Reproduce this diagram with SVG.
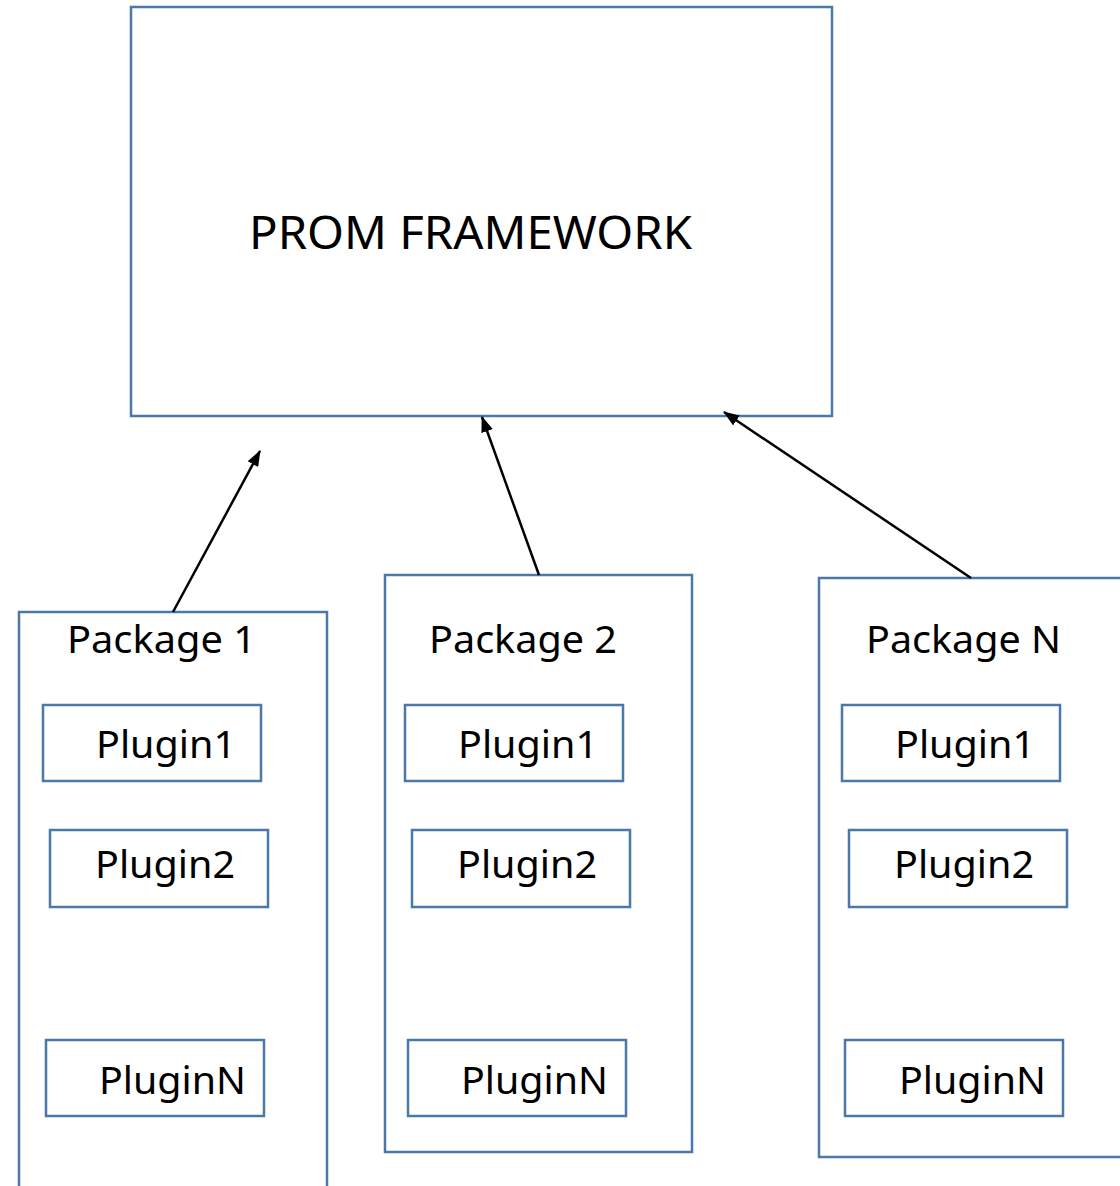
<svg xmlns="http://www.w3.org/2000/svg" width="1120" height="1186" viewBox="0 0 1120 1186">
<style>
.box{fill:#fff;stroke:#4a78a8;stroke-width:2.5}
.t{font-family:"Noto Sans","Liberation Sans",sans-serif;fill:#000}
.big{font-size:45px}
.lbl{font-size:39px}
.conn{stroke:#000;stroke-width:2.5;fill:none;marker-end:url(#ah)}
</style>
<defs>
<marker id="ah" viewBox="0 0 16 12" refX="15" refY="6" markerWidth="16" markerHeight="12" markerUnits="userSpaceOnUse" orient="auto"><path d="M0,0 L16,6 L0,12 z" fill="#000"/></marker>
</defs>
<rect width="1120" height="1186" fill="#fff"/>
<g id="framework"><rect class="box" x="131" y="7" width="701" height="409"/><text class="t big" x="249" y="249" textLength="443" lengthAdjust="spacingAndGlyphs">PROM FRAMEWORK</text></g>
<g id="package1"><rect class="box" x="19" y="612" width="308" height="590"/><text class="t lbl" x="67" y="653" textLength="189" lengthAdjust="spacingAndGlyphs">Package 1</text>
<g id="p1-plugin1"><rect class="box" x="43" y="705" width="218" height="76"/><text class="t lbl" x="96" y="758" textLength="140" lengthAdjust="spacingAndGlyphs">Plugin1</text></g>
<g id="p1-plugin2"><rect class="box" x="50" y="830" width="218" height="77"/><text class="t lbl" x="95" y="878" textLength="140" lengthAdjust="spacingAndGlyphs">Plugin2</text></g>
<g id="p1-pluginN"><rect class="box" x="46" y="1040" width="218" height="76"/><text class="t lbl" x="99" y="1094" textLength="147" lengthAdjust="spacingAndGlyphs">PluginN</text></g></g>
<g id="package2"><rect class="box" x="385" y="575" width="307" height="577"/><text class="t lbl" x="429" y="653" textLength="188" lengthAdjust="spacingAndGlyphs">Package 2</text>
<g id="p2-plugin1"><rect class="box" x="405" y="705" width="218" height="76"/><text class="t lbl" x="458" y="758" textLength="140" lengthAdjust="spacingAndGlyphs">Plugin1</text></g>
<g id="p2-plugin2"><rect class="box" x="412" y="830" width="218" height="77"/><text class="t lbl" x="457" y="878" textLength="140" lengthAdjust="spacingAndGlyphs">Plugin2</text></g>
<g id="p2-pluginN"><rect class="box" x="408" y="1040" width="218" height="76"/><text class="t lbl" x="461" y="1094" textLength="147" lengthAdjust="spacingAndGlyphs">PluginN</text></g></g>
<g id="packageN"><rect class="box" x="819" y="578" width="320" height="579"/><text class="t lbl" x="866" y="653" textLength="195" lengthAdjust="spacingAndGlyphs">Package N</text>
<g id="pN-plugin1"><rect class="box" x="842" y="705" width="218" height="76"/><text class="t lbl" x="895" y="758" textLength="140" lengthAdjust="spacingAndGlyphs">Plugin1</text></g>
<g id="pN-plugin2"><rect class="box" x="849" y="830" width="218" height="77"/><text class="t lbl" x="894" y="878" textLength="140" lengthAdjust="spacingAndGlyphs">Plugin2</text></g>
<g id="pN-pluginN"><rect class="box" x="845" y="1040" width="218" height="76"/><text class="t lbl" x="899" y="1094" textLength="147" lengthAdjust="spacingAndGlyphs">PluginN</text></g></g>
<g id="connectors">
<line class="conn" x1="173" y1="612" x2="260" y2="451"/>
<line class="conn" x1="539" y1="575" x2="482" y2="417"/>
<line class="conn" x1="971" y1="578" x2="724" y2="412"/>
</g>
</svg>
